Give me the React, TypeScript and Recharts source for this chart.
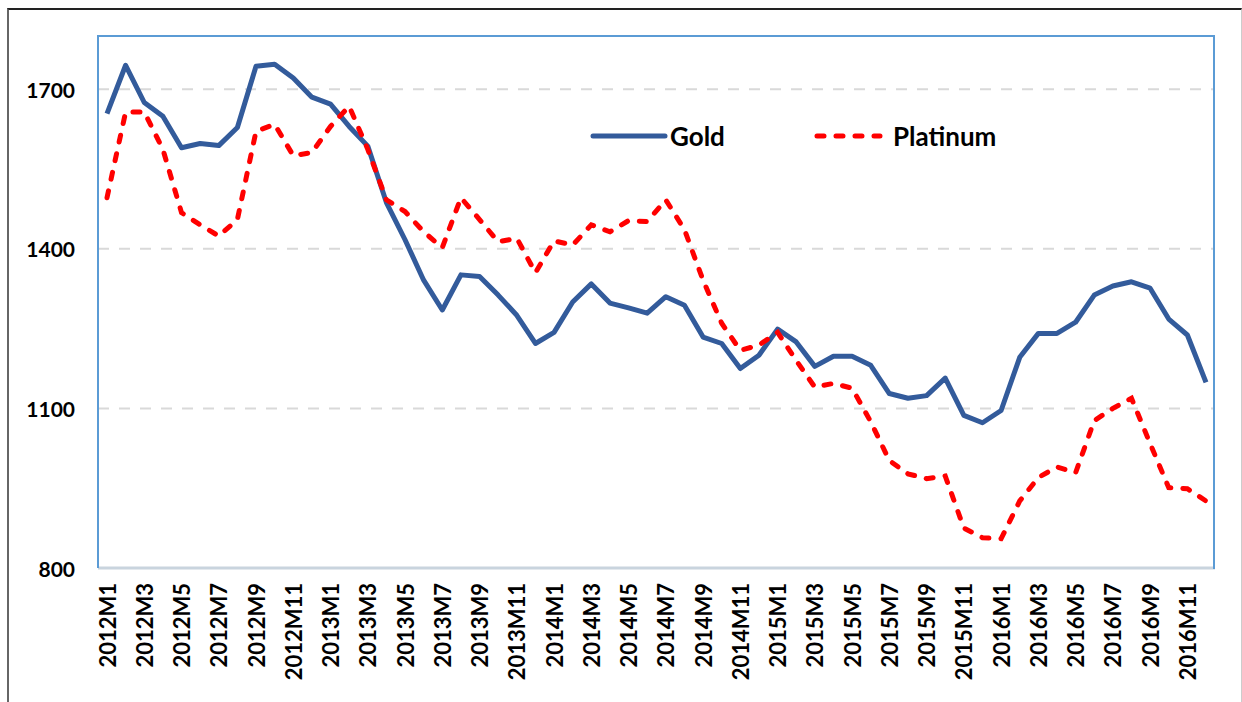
import { CartesianGrid, Legend, Line, LineChart, XAxis, YAxis } from 'recharts';

// monthly periods, 2012M1 .. 2016M12
const years = [2012, 2013, 2014, 2015, 2016];
const months = years.flatMap((y) => Array.from({ length: 12 }, (_, i) => `${y}M${i + 1}`));

const gold = [
  1654, 1745, 1675, 1649, 1590, 1598, 1594, 1628, 1743, 1747, 1721, 1685,
  1672, 1630, 1593, 1487, 1417, 1341, 1285, 1351, 1348, 1313, 1275, 1222,
  1243, 1300, 1334, 1298, 1289, 1279, 1310, 1294, 1234, 1222, 1175, 1200,
  1249, 1225, 1179, 1198, 1198, 1181, 1128, 1119, 1124, 1157, 1087, 1073,
  1096, 1196, 1241, 1241, 1262, 1313, 1330, 1338, 1326, 1268, 1238, 1149,
];
const platinum = [
  1496, 1657, 1657, 1587, 1468, 1445, 1424, 1455, 1621, 1634, 1575, 1581,
  1630, 1668, 1587, 1492, 1470, 1432, 1402, 1496, 1455, 1413, 1420, 1355,
  1415, 1407, 1445, 1432, 1453, 1451, 1492, 1436, 1341, 1260, 1209, 1219,
  1243, 1190, 1140, 1147, 1138, 1075, 1002, 977, 968, 973, 875, 857,
  855, 926, 970, 990, 979, 1077, 1100, 1119, 1034, 951, 949, 926,
];
const yTicks = [800, 1100, 1400, 1700];

const data = months.map((m, i) => ({ month: m, gold: gold[i], platinum: platinum[i] }));

const FONT = 'Lato, "Open Sans", sans-serif';
const GOLD = '#335b9b';
const RED = '#ff0000';
const FRAME = '#5b9bd5';

function XTick({ x, y, payload }: any) {
  return (
    <text
      x={x}
      y={y + 9}
      transform={`rotate(-90, ${x}, ${y + 9})`}
      textAnchor="end"
      dominantBaseline="central"
      fontFamily={FONT}
      fontWeight={700}
      fontSize={22}
      fill="#000"
    >
      {payload.value}
    </text>
  );
}

function YTick({ y, payload }: any) {
  return (
    <text x={75} y={y} textAnchor="end" dominantBaseline="central" fontFamily={FONT} fontWeight={700} fontSize={21} fill="#000">
      {payload.value}
    </text>
  );
}

function LegendBox() {
  return (
    <svg width={440} height={36}>
      <line x1={13} x2={85} y1={18} y2={18} stroke={GOLD} strokeWidth={5} strokeLinecap="round" />
      <text x={90} y={18} dominantBaseline="central" fontFamily={FONT} fontWeight={700} fontSize={26}>
        Gold
      </text>
      <line x1={237} x2={300} y1={18} y2={18} stroke={RED} strokeWidth={5} strokeLinecap="round" strokeDasharray="7 12" />
      <text x={313} y={18} dominantBaseline="central" fontFamily={FONT} fontWeight={700} fontSize={26}>
        Platinum
      </text>
    </svg>
  );
}

export default function App() {
  return (
    <div style={{ position: 'fixed', left: 0, top: 0, width: 1242, height: 702, background: '#fff', overflow: 'hidden' }}>
      {/* outer frame */}
      <div
        style={{
          position: 'absolute',
          left: 7,
          top: 8,
          width: 1232,
          height: 700,
          borderTop: '2px solid #222',
          borderLeft: '2px solid #666',
          borderRight: '1px solid #ccc',
        }}
      />
      <LineChart width={1242} height={702} data={data} margin={{ top: 36, right: 27, left: 0, bottom: 0 }}>
        <CartesianGrid horizontal vertical={false} stroke="#d9d9d9" strokeWidth={2} strokeDasharray="11 10" />
        <XAxis
          dataKey="month"
          interval={1}
          height={134}
          padding={{ left: 9, right: 9 }}
          tickLine={false}
          tickMargin={0}
          axisLine={{ stroke: '#c9d4de', strokeWidth: 3 }}
          tick={<XTick />}
        />
        <YAxis
          domain={[800, 1800]}
          ticks={yTicks}
          width={98}
          tickLine={false}
          axisLine={{ stroke: FRAME, strokeWidth: 2 }}
          tick={<YTick />}
        />
        <Legend
          layout="horizontal"
          verticalAlign="middle"
          content={<LegendBox />}
          wrapperStyle={{ top: 118, left: 580, width: 440, height: 36 }}
        />
        <Line
          type="linear"
          dataKey="gold"
          name="Gold"
          stroke={GOLD}
          strokeWidth={5}
          dot={false}
          strokeLinejoin="round"
          isAnimationActive={false}
        />
        <Line
          type="linear"
          dataKey="platinum"
          name="Platinum"
          stroke={RED}
          strokeWidth={5}
          strokeDasharray="7 12"
          strokeLinecap="round"
          dot={false}
          isAnimationActive={false}
        />
      </LineChart>
      {/* plot-area frame: top, right */}
      <div
        style={{
          position: 'absolute',
          left: 97,
          top: 35,
          width: 1116,
          height: 532,
          borderTop: `2px solid ${FRAME}`,
          borderRight: `2px solid ${FRAME}`,
          pointerEvents: 'none',
        }}
      />
    </div>
  );
}
